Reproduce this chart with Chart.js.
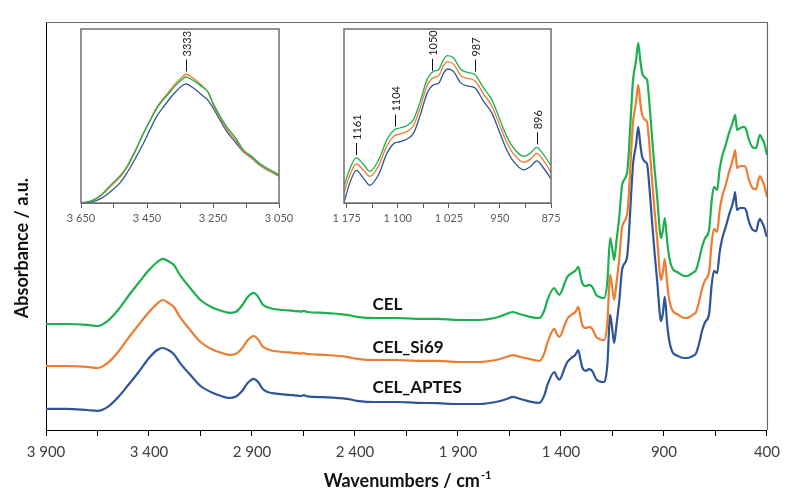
<!DOCTYPE html>
<html><head><meta charset="utf-8">
<script src="https://cdn.jsdelivr.net/npm/chart.js@4"></script>
<style>
html,body{margin:0;padding:0;background:#fff;}
#wrap{position:relative;width:787px;height:493px;overflow:hidden;}
canvas{position:absolute;}
</style></head><body>
<div id="wrap">
<canvas id="main" width="787" height="493" style="left:0;top:0"></canvas>
<canvas id="insetA" width="240" height="215" style="left:60px;top:20px"></canvas>
<canvas id="insetB" width="260" height="215" style="left:320px;top:20px"></canvas>
</div>
<script>
// ---------- DATA ----------
const seriesNames = ['CEL', 'CEL_Si69', 'CEL_APTES'];

// main spectrum wavenumbers (cm-1)
const wavenumbers = [
 3900,3800,3700,3650,3600,3550,3500,3450,3400,3360,
 3333,3300,3280,3250,3200,3150,3100,3050,3010,2980,
 2950,2920,2892,2870,2850,2830,2800,2750,2700,2660,
 2650,2630,2550,2440,2390,2300,2200,2100,2000,1900,
 1800,1700,1650,1636,1600,1550,1505,1480,1466,1432,
 1420,1408,1380,1369,1345,1330,1316,1305,1297,1280,
 1263,1248,1229,1214,1200,1190,1175,1161,1150,1142,
 1130,1117,1103,1079,1070,1060,1050,1045,1035,1025,
 1015,1006,990,982,970,957,945,933,914,905,
 896,885,875,860,836,800,788,760,744,730,
 715,700,681,668,657,642,630,618,600,584,
 570,560,555,550,545,530,511,500,490,472,
 460,453,440,434,425,414,405,400];

const celAbs = [
 .265,.265,.263,.260,.273,.300,.335,.368,.400,.420,
 .428,.420,.413,.388,.355,.325,.308,.298,.293,.295,
 .310,.333,.343,.333,.315,.308,.303,.300,.298,.296,
 .298,.295,.293,.288,.283,.280,.280,.278,.278,.275,
 .275,.283,.293,.295,.290,.283,.280,.300,.325,.355,
 .345,.338,.370,.383,.393,.398,.408,.385,.368,.360,
 .363,.358,.338,.333,.330,.330,.370,.480,.450,.425,
 .475,.533,.613,.643,.700,.793,.875,.895,.925,.968,
 .925,.893,.880,.875,.813,.725,.650,.583,.480,.500,
 .530,.475,.433,.405,.395,.385,.385,.393,.400,.425,
 .458,.480,.500,.575,.608,.600,.650,.683,.713,.743,
 .763,.780,.788,.770,.750,.755,.758,.750,.730,.708,
 .705,.705,.730,.738,.730,.718,.700,.688];

const celSi69Abs = [
 .160,.160,.158,.155,.168,.195,.230,.263,.295,.316,
 .325,.316,.308,.283,.250,.220,.203,.193,.188,.190,
 .203,.225,.235,.226,.210,.203,.198,.195,.193,.191,
 .192,.190,.188,.183,.178,.175,.175,.173,.173,.170,
 .170,.177,.185,.187,.183,.177,.173,.193,.218,.253,
 .240,.233,.265,.278,.290,.295,.308,.282,.263,.255,
 .258,.253,.233,.228,.225,.225,.268,.388,.352,.325,
 .370,.428,.508,.538,.595,.688,.770,.790,.822,.863,
 .820,.788,.775,.770,.708,.620,.545,.478,.375,.395,
 .428,.370,.328,.300,.290,.280,.280,.288,.295,.320,
 .353,.375,.395,.470,.503,.495,.548,.582,.613,.645,
 .668,.688,.700,.678,.655,.660,.660,.652,.630,.606,
 .602,.602,.628,.635,.626,.613,.595,.583];

const celAptesAbs = [
 .053,.053,.050,.048,.058,.082,.113,.145,.180,.200,
 .205,.198,.190,.168,.138,.110,.095,.085,.080,.083,
 .096,.118,.128,.120,.104,.096,.092,.089,.087,.085,
 .087,.084,.082,.078,.073,.070,.070,.068,.067,.065,
 .065,.072,.080,.083,.078,.071,.068,.088,.112,.145,
 .133,.126,.158,.170,.182,.188,.200,.175,.157,.148,
 .152,.147,.127,.122,.120,.120,.162,.288,.248,.218,
 .265,.322,.402,.432,.490,.583,.665,.685,.715,.758,
 .715,.683,.670,.665,.603,.515,.440,.373,.272,.292,
 .333,.268,.225,.196,.186,.180,.180,.185,.192,.215,
 .248,.270,.290,.365,.398,.392,.443,.477,.508,.538,
 .560,.580,.595,.572,.550,.555,.555,.547,.525,.502,
 .498,.497,.522,.528,.520,.508,.490,.483];

const mainTickValues = [3900,3650,3400,3150,2900,2650,2400,2150,1900,1650,1400,1150,900,650,400];
const mainTickLabels = [3900,3400,2900,2400,1900,1400,900,400];

// inset A: O-H band 3650-3050
const insetAWn = [3650,3620,3590,3562,3530,3512,3490,3461,3440,3421,3400,3380,3360,3345,3332,3310,3284,3265,3249,3230,3208,3180,3158,3130,3108,3080,3050];
const insetACel    = [0.000,0.012,0.045,0.100,0.160,0.207,0.284,0.400,0.475,0.542,0.594,0.638,0.682,0.709,0.724,0.705,0.669,0.638,0.571,0.504,0.437,0.370,0.305,0.264,0.227,0.194,0.163];
const insetASi69   = [0.000,0.010,0.040,0.092,0.152,0.200,0.278,0.398,0.478,0.548,0.602,0.648,0.694,0.722,0.740,0.718,0.675,0.635,0.562,0.493,0.425,0.358,0.296,0.255,0.220,0.186,0.155];
const insetAAptes  = [0.000,0.005,0.025,0.063,0.120,0.169,0.240,0.342,0.425,0.496,0.552,0.602,0.645,0.672,0.685,0.662,0.621,0.590,0.544,0.480,0.410,0.345,0.294,0.253,0.217,0.185,0.154];
const insetATickValues = [3650,3550,3450,3350,3250,3150,3050];
const insetATickLabels = [3650,3450,3250,3050];
const insetAPeaks = [3333];

// inset B: fingerprint 1179-875
const insetBWn = [1179,1170,1161,1150,1141,1128,1116,1105,1097,1087,1077,1067,1057,1047,1040,1033,1027,1018,1008,998,987,974,962,950,940,930,915,905,896,886,875];
const insetBCel   = [0.096,0.201,0.259,0.220,0.182,0.249,0.364,0.421,0.431,0.444,0.479,0.584,0.709,0.757,0.766,0.824,0.847,0.833,0.770,0.751,0.738,0.661,0.594,0.479,0.383,0.316,0.268,0.287,0.320,0.278,0.215];
const insetBSi69  = [0.057,0.165,0.224,0.186,0.153,0.215,0.330,0.386,0.396,0.410,0.444,0.549,0.674,0.722,0.731,0.789,0.812,0.798,0.735,0.716,0.703,0.626,0.559,0.444,0.349,0.282,0.234,0.252,0.285,0.243,0.176];
const insetBAptes = [0.004,0.120,0.188,0.140,0.102,0.165,0.285,0.344,0.352,0.366,0.400,0.505,0.630,0.680,0.688,0.745,0.770,0.755,0.692,0.673,0.662,0.584,0.518,0.402,0.306,0.239,0.190,0.210,0.242,0.201,0.138];
const insetBTickValues = [1175,1137.5,1100,1062.5,1025,987.5,950,912.5,875];
const insetBTickLabels = [1175,1100,1025,950,875];
const insetBPeaks = [1161,1104,1050,987,896];

// ---------- STYLE ----------
const FONT = 'Lato, "Open Sans", "Liberation Sans", sans-serif';
const COLORS = ['#1EB04E', '#ED7D31', '#2F5597'];

function fmtWn(v){
  v = Math.round(v);
  return v >= 1000 ? Math.floor(v/1000) + ' ' + String(v % 1000).padStart(3,'0') : String(v);
}
function toPoints(xs, ys){ return xs.map((x,i)=>({x:x, y:ys[i]})); }
function valueAt(data, wn){
  for (let i=0;i<data.length-1;i++){
    const a=data[i], b=data[i+1];
    if ((wn<=a.x && wn>=b.x) || (wn>=a.x && wn<=b.x)){
      const t=(wn-a.x)/(b.x-a.x); return a.y+t*(b.y-a.y);
    }
  }
  return null;
}

// ---------- MAIN CHART ----------
const mainDecor = {
  id: 'mainDecor',
  afterDraw(chart, args, opts){
    const {ctx, chartArea:a, scales:{x, y}} = chart;
    ctx.save();
    ctx.strokeStyle = '#6b6b6b'; ctx.lineWidth = 1.2;
    ctx.beginPath();
    ctx.moveTo(a.left, a.top + 0.5); ctx.lineTo(a.right + 0.5, a.top + 0.5); ctx.lineTo(a.right + 0.5, a.bottom);
    ctx.stroke();
    // series labels
    ctx.font = 'bold 17px ' + FONT; ctx.fillStyle = '#111';
    ctx.textAlign = 'left'; ctx.textBaseline = 'middle';
    seriesNames.forEach((n,i)=>{
      ctx.fillText(n, x.getPixelForValue(opts.labelWn), y.getPixelForValue(opts.labelY[i]));
    });
    // y title
    ctx.save();
    ctx.translate(22, 248); ctx.rotate(-Math.PI/2);
    ctx.textAlign = 'center'; ctx.font = 'bold 18px ' + FONT; ctx.fillStyle = '#111';
    ctx.fillText('Absorbance / a.u.', 0, 0);
    ctx.restore();
    // x title with superscript
    const main = 'Wavenumbers / cm', sup = '-1';
    ctx.font = 'bold 18px ' + FONT; const w1 = ctx.measureText(main).width;
    ctx.font = 'bold 11px ' + FONT; const w2 = ctx.measureText(sup).width;
    const sx = 407 - (w1 + w2)/2;
    ctx.textAlign = 'left'; ctx.textBaseline = 'alphabetic';
    ctx.font = 'bold 18px ' + FONT; ctx.fillText(main, sx, 487);
    ctx.font = 'bold 11px ' + FONT; ctx.fillText(sup, sx + w1 + 1, 479);
    ctx.restore();
  }
};

new Chart(document.getElementById('main'), {
  type: 'line',
  data: {
    datasets: [
      {label: seriesNames[0], data: toPoints(wavenumbers, celAbs), borderColor: COLORS[0]},
      {label: seriesNames[1], data: toPoints(wavenumbers, celSi69Abs), borderColor: COLORS[1]},
      {label: seriesNames[2], data: toPoints(wavenumbers, celAptesAbs), borderColor: COLORS[2]}
    ]
  },
  options: {
    responsive: false, animation: false,
    layout: {padding: {top: 22, right: 19, left: 0, bottom: 0}},
    elements: {
      point: {radius: 0},
      line: {borderWidth: 2.2, tension: 0.4, cubicInterpolationMode: 'monotone', fill: false}
    },
    plugins: {
      legend: {display: false}, tooltip: {enabled: false},
      mainDecor: {labelWn: 2315, labelY: [0.3125, 0.205, 0.105]}
    },
    scales: {
      x: {
        type: 'linear', reverse: true, min: 400, max: 3900,
        afterBuildTicks: s => { s.ticks = mainTickValues.map(v => ({value: v})); },
        afterFit: s => { s.height = 63; },
        border: {display: true, color: '#000', width: 1},
        grid: {drawOnChartArea: false, drawTicks: true, tickLength: 6, tickColor: '#000', tickWidth: 1},
        ticks: {autoSkip: false, maxRotation: 0, padding: 7, color: '#404040',
                font: {family: FONT, size: 15},
                callback: v => mainTickLabels.includes(v) ? fmtWn(v) : ''}
      },
      y: {
        min: 0, max: 1.02,
        afterFit: s => { s.width = 46; },
        ticks: {display: false},
        grid: {display: false, drawTicks: false},
        border: {display: true, color: '#000', width: 1}
      }
    }
  },
  plugins: [mainDecor]
});

// ---------- INSETS ----------
const insetDecor = {
  id: 'insetDecor',
  beforeDraw(chart){
    const {ctx, chartArea:a} = chart;
    ctx.save(); ctx.fillStyle = '#fff';
    ctx.fillRect(a.left, a.top, a.right - a.left, a.bottom - a.top);
    ctx.restore();
  },
  afterDraw(chart, args, opts){
    const {ctx, chartArea:a, scales:{x, y}} = chart;
    ctx.save();
    ctx.strokeStyle = '#6e6e6e'; ctx.lineWidth = 1.5;
    ctx.strokeRect(a.left, a.top, a.right - a.left, a.bottom - a.top);
    (opts.peaks || []).forEach(p => {
      const px = Math.round(x.getPixelForValue(p)) + 0.5;
      let top = Infinity;
      chart.data.datasets.forEach(ds => {
        const v = valueAt(ds.data, p);
        if (v != null) top = Math.min(top, y.getPixelForValue(v));
      });
      ctx.strokeStyle = '#111'; ctx.lineWidth = 1;
      ctx.beginPath(); ctx.moveTo(px, top - 3); ctx.lineTo(px, top - 15); ctx.stroke();
      ctx.save();
      ctx.translate(px, top - 18); ctx.rotate(-Math.PI/2);
      ctx.font = '11px ' + FONT; ctx.fillStyle = '#222';
      ctx.textAlign = 'left'; ctx.textBaseline = 'middle';
      ctx.fillText(String(p), 0, 0.5);
      ctx.restore();
    });
    ctx.restore();
  }
};

function makeInset(id, wn, sets, tickValues, tickLabels, min, max, pad, peaks){
  return new Chart(document.getElementById(id), {
    type: 'line',
    data: {
      datasets: sets.map((vals, i) => ({label: seriesNames[i], data: toPoints(wn, vals), borderColor: COLORS[i]}))
    },
    options: {
      responsive: false, animation: false,
      layout: {padding: pad},
      elements: {
        point: {radius: 0},
        line: {borderWidth: 1.3, tension: 0.4, cubicInterpolationMode: 'monotone', fill: false}
      },
      plugins: {legend: {display: false}, tooltip: {enabled: false}, insetDecor: {peaks: peaks}},
      scales: {
        x: {
          type: 'linear', reverse: true, min: min, max: max,
          afterBuildTicks: s => { s.ticks = tickValues.map(v => ({value: v})); },
          afterFit: s => { s.height = 32; },
          border: {display: true, color: '#6e6e6e', width: 1},
          grid: {drawOnChartArea: false, drawTicks: true, tickLength: 5, tickColor: '#595959'},
          ticks: {autoSkip: false, maxRotation: 0, padding: 4, color: '#595959',
                  font: {family: FONT, size: 11},
                  callback: v => tickLabels.includes(v) ? fmtWn(v) : ''}
        },
        y: {display: false, min: 0, max: 1}
      }
    },
    plugins: [insetDecor]
  });
}

makeInset('insetA', insetAWn, [insetACel, insetASi69, insetAAptes],
  insetATickValues, insetATickLabels, 3050, 3650,
  {left: 21, right: 21, top: 9, bottom: 0}, insetAPeaks);
makeInset('insetB', insetBWn, [insetBCel, insetBSi69, insetBAptes],
  insetBTickValues, insetBTickLabels, 875, 1179,
  {left: 24, right: 29, top: 9, bottom: 0}, insetBPeaks);
</script>
</body></html>
